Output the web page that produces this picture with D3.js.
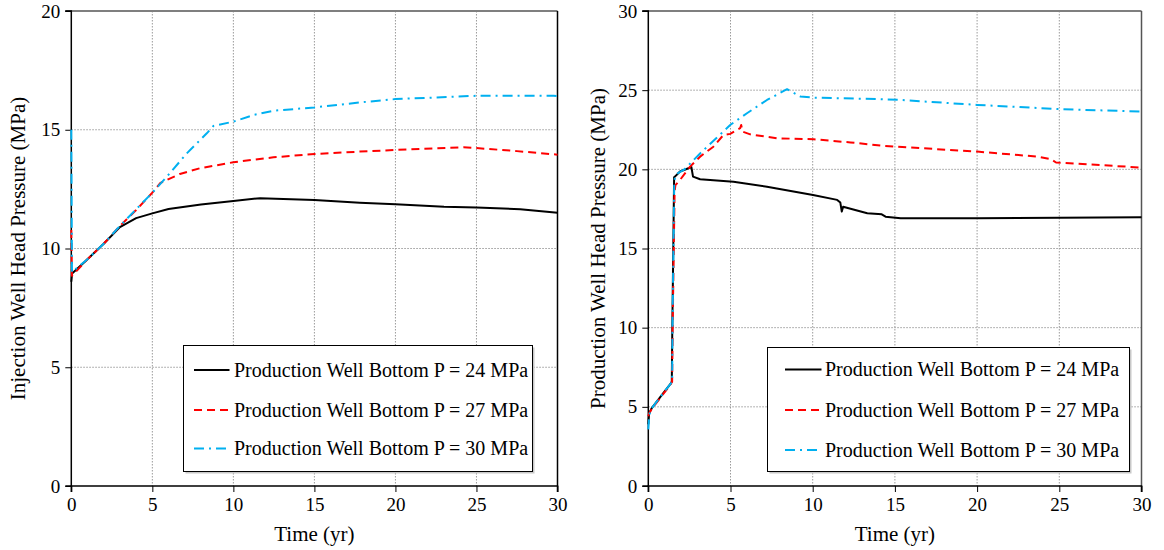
<!DOCTYPE html>
<html><head><meta charset="utf-8">
<script src="https://cdn.jsdelivr.net/npm/d3@7"></script>
<style>
html,body{margin:0;padding:0;background:#fff;}
svg{display:block;}
svg text{font-family:"Liberation Serif",Tinos,"Times New Roman",Times,"DejaVu Serif",serif !important;}
</style></head>
<body><svg id="chart" width="1164" height="550"></svg>
<script>
// ---------- DATA ----------
const seriesLabels = ["Production Well Bottom P = 24 MPa","Production Well Bottom P = 27 MPa","Production Well Bottom P = 30 MPa"];
const xTicks = [0,5,10,15,20,25,30];
const yTicksLeft = [0,5,10,15,20];
const yTicksRight = [0,5,10,15,20,25,30];
const xTitle = "Time (yr)";
const yTitleLeft = "Injection Well Head Pressure (MPa)";
const yTitleRight = "Production Well Head Pressure (MPa)";

// Left panel: injection well head pressure
const injT24 = [0,0.05,1,2,3,4,5,6,7,8,10,11.65,15,17.8,20,23,25,27.7,30];
const injP24 = [8.6,8.95,9.55,10.2,10.9,11.28,11.48,11.66,11.76,11.85,12.0,12.12,12.04,11.93,11.86,11.76,11.73,11.65,11.51];
const injT27 = [0,0.04,1,2,3,4,5,5.5,6.7,7.94,10,12.47,15,17.8,20,24.2,25,27.5,29.55,30];
const injP27 = [10.78,8.85,9.55,10.2,10.95,11.62,12.35,12.76,13.14,13.38,13.63,13.84,13.98,14.08,14.15,14.26,14.23,14.1,13.98,13.95];
const injT30 = [0,0.04,1,2,3,4,5,5.89,7.12,8.36,8.77,10,11.23,12.47,15,17.8,20,25,29.75,30];
const injP30 = [15.0,9.0,9.55,10.2,10.95,11.65,12.35,13.02,14.0,14.85,15.16,15.34,15.62,15.8,15.94,16.15,16.29,16.43,16.43,16.42];

// Right panel: production well head pressure
const prodT24 = [0,0.05,0.2,0.9,1.35,1.43,1.46,1.52,1.57,1.62,1.93,2.52,2.62,2.72,3.15,5.18,7.22,10.02,11.49,11.68,11.77,11.85,13.32,14.2,14.43,15.35,20,25,30];
const prodP24 = [3.9,4.6,4.9,5.85,6.45,6.6,10,15,19.5,19.54,19.86,20.1,20.15,19.54,19.37,19.22,18.9,18.38,18.07,17.9,17.33,17.64,17.23,17.16,17.01,16.91,16.91,16.94,16.97];
const prodT27 = [0,0.05,0.2,0.9,1.35,1.45,1.48,1.55,1.6,1.65,1.93,2.54,3.15,3.96,4.57,4.98,5.59,5.65,5.73,6.2,7.83,10.06,12.3,14.33,20,23.68,24.49,24.8,25.1,30];
const prodP27 = [4.4,4.6,4.85,5.8,6.4,6.6,10,15,18.6,19.0,19.33,20.17,20.8,21.43,22.17,22.24,22.6,22.8,22.38,22.21,21.96,21.9,21.7,21.48,21.12,20.8,20.64,20.43,20.42,20.11];
const prodT30 = [0,0.06,0.2,0.9,1.35,1.45,1.47,1.53,1.58,1.7,2.2,3.15,4.98,6.0,7.22,8.44,9.25,10.06,14.13,15.35,20,25.1,30];
const prodP30 = [3.58,4.5,4.9,5.85,6.45,6.6,10,15,19.3,19.7,20.0,21.0,22.8,23.54,24.38,25.06,24.6,24.53,24.43,24.38,24.07,23.8,23.65];

// ---------- STYLE ----------
const colors = ["#000000","#ff0000","#00b0f0"];
const dashes = [null,"8,5","10,5,2,5"];
const FONT = "'Liberation Serif',Tinos,'Times New Roman',Times,'DejaVu Serif',serif";

const svg = d3.select("#chart");

function panel(opts){
  const {x0,x1,yTop,yBot,yMax,yTicks,yTitle,titleX,series,legend,rightColor} = opts;
  const x = d3.scaleLinear().domain([0,30]).range([x0,x1]);
  const y = d3.scaleLinear().domain([0,yMax]).range([yBot,yTop]);
  const g = svg.append("g");

  // grid
  g.append("g").selectAll("line").data(xTicks.filter(d=>d>0&&d<30)).join("line")
    .attr("x1",d=>x(d)).attr("x2",d=>x(d)).attr("y1",yTop).attr("y2",yBot)
    .attr("stroke","#9a9a9a").attr("stroke-width",1).attr("stroke-dasharray","1.5,1.5");
  g.append("g").selectAll("line").data(yTicks.filter(d=>d>0&&d<yMax)).join("line")
    .attr("x1",x0).attr("x2",x1).attr("y1",d=>y(d)).attr("y2",d=>y(d))
    .attr("stroke","#9a9a9a").attr("stroke-width",1).attr("stroke-dasharray","1.5,1.5");

  // top & right border
  g.append("line").attr("x1",x0-6).attr("x2",x1).attr("y1",yTop).attr("y2",yTop)
    .attr("stroke","#7f7f7f").attr("stroke-width",2);
  g.append("line").attr("x1",x1).attr("x2",x1).attr("y1",yTop).attr("y2",yBot)
    .attr("stroke",rightColor).attr("stroke-width",1.5);

  // axes
  const xAxis = d3.axisBottom(x).tickValues(xTicks).tickSize(6).tickPadding(6).tickFormat(d3.format("d"));
  const ax = g.append("g").attr("transform",`translate(0,${yBot})`).call(xAxis);
  const yAxis = d3.axisLeft(y).tickValues(yTicks).tickSize(6).tickPadding(5).tickFormat(d3.format("d"));
  const ay = g.append("g").attr("transform",`translate(${x0},0)`).call(yAxis);
  [ax,ay].forEach(a=>{
    a.attr("font-family",FONT).attr("font-size",19);
    a.select(".domain").attr("stroke","#000").attr("stroke-width",1.5);
    a.selectAll(".tick line").attr("stroke","#000").attr("stroke-width",1);
    a.selectAll(".tick text").attr("fill","#000").attr("font-family",FONT).attr("font-size",19);
  });
  ay.select(".domain").attr("d",`M-6,${yBot}H0V${yTop}H-6`);
  ax.select(".domain").attr("d",`M${x0},6V0H${x1}V6`);

  // series
  const line = d3.line().x(d=>x(d[0])).y(d=>y(d[1]));
  series.forEach((s,i)=>{
    const pts = s.t.map((t,k)=>[t,s.p[k]]);
    g.append("path").datum(pts).attr("d",line).attr("fill","none")
      .attr("stroke",colors[i]).attr("stroke-width",2)
      .attr("stroke-dasharray",dashes[i]).attr("stroke-linejoin","round");
  });

  // titles
  g.append("text").attr("x",(x0+x1)/2).attr("y",541).attr("text-anchor","middle")
    .attr("font-family",FONT).attr("font-size",21).text(xTitle);
  g.append("text").attr("transform",`translate(${titleX},${(yTop+yBot)/2}) rotate(-90)`)
    .attr("text-anchor","middle").attr("font-family",FONT).attr("font-size",21).text(yTitle);

  // legend
  const L = legend;
  g.append("rect").attr("x",L.x+2).attr("y",L.y+2).attr("width",L.w).attr("height",L.h).attr("fill","#c8c8c8");
  g.append("rect").attr("x",L.x).attr("y",L.y).attr("width",L.w).attr("height",L.h)
    .attr("fill","#fff").attr("stroke","#000").attr("stroke-width",1);
  seriesLabels.forEach((lab,i)=>{
    const ry = L.rows[i];
    g.append("line").attr("x1",L.lx0).attr("x2",L.lx1).attr("y1",ry).attr("y2",ry)
      .attr("stroke",colors[i]).attr("stroke-width",2).attr("stroke-dasharray",dashes[i]);
    g.append("text").attr("x",L.tx).attr("y",ry).attr("dy","0.33em")
      .attr("font-family",FONT).attr("font-size",20).text(lab);
  });
}

panel({x0:71.3,x1:557.5,yTop:11,yBot:486,yMax:20,yTicks:yTicksLeft,yTitle:yTitleLeft,titleX:25,
  rightColor:"#000",
  series:[{t:injT24,p:injP24},{t:injT27,p:injP27},{t:injT30,p:injP30}],
  legend:{x:183.5,y:345.5,w:349,h:126,rows:[370,410,448.5],lx0:194,lx1:229.5,tx:234}});

panel({x0:648.3,x1:1141.5,yTop:11,yBot:486,yMax:30,yTicks:yTicksRight,yTitle:yTitleRight,titleX:605,
  rightColor:"#555",
  series:[{t:prodT24,p:prodP24},{t:prodT27,p:prodP27},{t:prodT30,p:prodP30}],
  legend:{x:767.5,y:347.5,w:362,h:124,rows:[369.5,410,450],lx0:785,lx1:821.5,tx:825}});
</script></body></html>
